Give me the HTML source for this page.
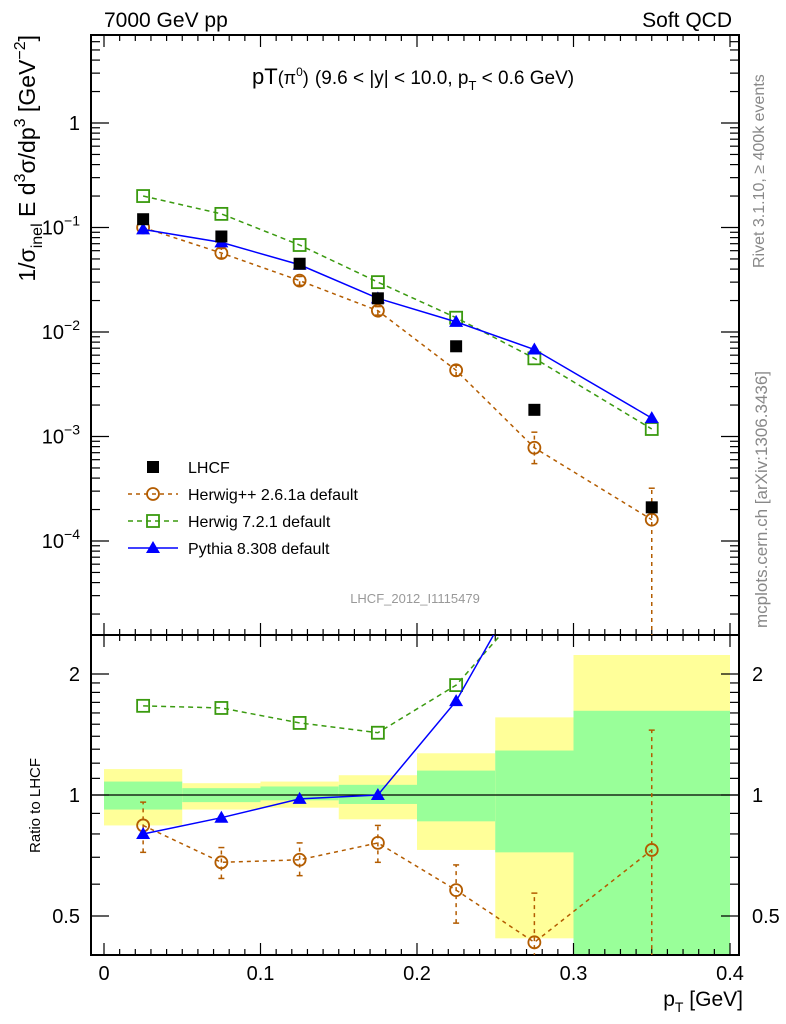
<!DOCTYPE html>
<html><head><meta charset="utf-8"><style>
html,body{margin:0;background:#fff;width:786px;height:1024px;overflow:hidden;}
svg{display:block;font-family:"Liberation Sans",sans-serif;}
</style></head><body>
<svg id="c" width="786" height="1024" xmlns="http://www.w3.org/2000/svg" style="overflow:hidden"></svg>
<script>
const xs=[0.025,0.075,0.125,0.175,0.225,0.275,0.35];
const lhcf=[0.12,0.082,0.045,0.021,0.0073,0.0018,0.00021];
const herwigpp=[0.1,0.057,0.031,0.016,0.0043,0.00078,0.00016];
const herwigppLo=[0.09,0.051,0.028,0.0145,0.0038,0.00055,0.000001];
const herwigppHi=[0.11,0.063,0.034,0.0175,0.0048,0.0011,0.00032];
const herwig7=[0.2,0.135,0.068,0.03,0.0137,0.0056,0.00118];
const pythia=[0.096,0.072,0.044,0.021,0.0125,0.0068,0.0015];
const hppRatio=[0.84,0.68,0.69,0.76,0.58,0.43,0.73];
const hppErrLo=[0.72,0.62,0.63,0.68,0.48,0.3,0.3];
const hppErrHi=[0.96,0.74,0.76,0.84,0.67,0.57,1.45];
const binEdges=[0,0.05,0.1,0.15,0.2,0.25,0.3,0.4];
const yellowHi=[1.16,1.07,1.08,1.12,1.27,1.56,2.23];
const yellowLo=[0.84,0.92,0.93,0.87,0.73,0.44,0.3];
const greenHi=[1.08,1.04,1.05,1.06,1.15,1.29,1.62];
const greenLo=[0.92,0.96,0.97,0.95,0.86,0.72,0.3];
const mainTicks=["1","10<tspan dy='-9' font-size='14'>−1</tspan>","10<tspan dy='-9' font-size='14'>−2</tspan>","10<tspan dy='-9' font-size='14'>−3</tspan>","10<tspan dy='-9' font-size='14'>−4</tspan>"];
const xTickLabels=["0","0.1","0.2","0.3","0.4"];

const L=91,R=739,T=35,MB=635,RB=955;
const X=v=>104+v*1565;
const Y=v=>123-104.5*Math.log10(v);
const YR=v=>795-121*Math.log2(v);
const svg=document.getElementById('c');
const NS='http://www.w3.org/2000/svg';
function el(tag,attrs,parent){const e=document.createElementNS(NS,tag);for(const k in attrs)e.setAttribute(k,attrs[k]);(parent||svg).appendChild(e);return e;}

const defs=el('defs',{});
const cp=el('clipPath',{id:'rc'},defs);el('rect',{x:L,y:MB,width:R-L,height:RB-MB},cp);
const cpm=el('clipPath',{id:'mc'},defs);el('rect',{x:L,y:T,width:R-L,height:MB-T},cpm);
const bands=el('g',{'clip-path':'url(#rc)'});


for(let i=0;i<7;i++){
 const x0=X(binEdges[i]),x1=X(binEdges[i+1]);
 const y1=el('rect',{x:x0,y:YR(yellowHi[i]),width:x1-x0,height:YR(yellowLo[i])-YR(yellowHi[i]),fill:'#ffff99'},bands);
 
 
 const g1=el('rect',{x:x0,y:YR(greenHi[i]),width:x1-x0,height:YR(greenLo[i])-YR(greenHi[i]),fill:'#99ff99'},bands);
 
 
}
el('line',{x1:L,x2:R,y1:YR(1),y2:YR(1),stroke:'#000','stroke-width':1.2});

el('rect',{x:L,y:T,width:R-L,height:MB-T,fill:'none',stroke:'#000','stroke-width':2});
el('rect',{x:L,y:MB,width:R-L,height:RB-MB,fill:'none',stroke:'#000','stroke-width':2});
for(let i=0;i<=40;i++){const x=X(i/100),maj=i%10==0,len=maj?12:6;
 [[MB,-1],[RB,-1],[T,1],[MB,1]].forEach(([y,d])=>el('line',{x1:x,x2:x,y1:y,y2:y+d*len,stroke:'#000','stroke-width':1.2}));
}
xTickLabels.forEach((t,i)=>{const e=el('text',{x:X(i/10),y:980,'font-size':20,'text-anchor':'middle'});e.textContent=t;
 
 });
for(let d=0;d>=-5;d--){for(let m=1;m<10;m++){const v=m*Math.pow(10,d);const y=Y(v);if(y<T||y>MB)continue;const len=m==1?18:9;
 el('line',{x1:L,x2:L+len,y1:y,y2:y,stroke:'#000','stroke-width':1.2});el('line',{x1:R,x2:R-len,y1:y,y2:y,stroke:'#000','stroke-width':1.2});}}
mainTicks.forEach((t,i)=>{const g=el('text',{x:80,y:Y(Math.pow(10,-i))+7,'font-size':20,'text-anchor':'end'});g.innerHTML=t;
 
 });
[0.4,0.5,0.6,0.7,0.8,0.9,1,2].forEach(v=>{const y=YR(v);if(y>RB)return;const maj=(v==0.5||v==1||v==2);const len=maj?18:9;
 el('line',{x1:L,x2:L+len,y1:y,y2:y,stroke:'#000','stroke-width':1.2});el('line',{x1:R,x2:R-len,y1:y,y2:y,stroke:'#000','stroke-width':1.2});});
[1.1,1.2,1.3,1.4,1.5,1.6,1.7,1.8,1.9].forEach(v=>{const y=YR(v);el('line',{x1:L,x2:L+9,y1:y,y2:y,stroke:'#000','stroke-width':1.2});el('line',{x1:R,x2:R-9,y1:y,y2:y,stroke:'#000','stroke-width':1.2});});
[["2",2],["1",1],["0.5",0.5]].forEach(([t,v])=>{[80,752].forEach(x=>{const e=el('text',{x:x,y:YR(v)+7,'font-size':20,'text-anchor':x<100?'end':'start'});e.textContent=t;
 
 });});

function series(vals,fn,color,dash,marker,clip,name,errLo,errHi){
 const g=el('g',{'clip-path':'url(#'+clip+')'});
 
 
 const pts=xs.map((x,i)=>[X(x),fn(vals[i])]);
 if(errLo){xs.forEach((x,i)=>{const lo=fn(errLo[i]),hi=fn(errHi[i]);
  el('line',{x1:X(x),x2:X(x),y1:lo,y2:hi,stroke:color,'stroke-width':1.5,'stroke-dasharray':'4,4'},g);
  el('line',{x1:X(x)-3,x2:X(x)+3,y1:hi,y2:hi,stroke:color,'stroke-width':1.5},g);
  el('line',{x1:X(x)-3,x2:X(x)+3,y1:lo,y2:lo,stroke:color,'stroke-width':1.5},g);});}
 if(dash!==null)el('polyline',{points:pts.map(p=>p.join(',')).join(' '),fill:'none',stroke:color,'stroke-width':1.5,'stroke-dasharray':dash},g);
 pts.forEach(([x,y])=>drawMarker(g,marker,x,y,color));
}
function drawMarker(g,m,x,y,c){
 let e;
 if(m=='sq')e=el('rect',{x:x-6,y:y-6,width:12,height:12,fill:'#000'},g);
 if(m=='circ')e=el('circle',{cx:x,cy:y,r:6,fill:'none',stroke:c,'stroke-width':1.8},g);
 if(m=='osq')e=el('rect',{x:x-6,y:y-6,width:12,height:12,fill:'none',stroke:c,'stroke-width':1.8},g);
 if(m=='tri')e=el('polygon',{points:`${x},${y-7} ${x-7},${y+5} ${x+7},${y+5}`,fill:c},g);
 
 
}
series(herwigpp,Y,'#b35c00','4,4','circ','mc','herwigpp-series',herwigppLo,herwigppHi);
series(herwig7,Y,'#3a9a0f','5,4','osq','mc','herwig7-series');
series(pythia,Y,'#0000ff','','tri','mc','pythia-series');
series(lhcf,Y,'#000',null,'sq','mc','lhcf-series');
series(hppRatio,YR,'#b35c00','4,4','circ','rc','herwigpp-ratio',hppErrLo,hppErrHi);
series(herwig7.map((v,i)=>v/lhcf[i]),YR,'#3a9a0f','5,4','osq','rc','herwig7-ratio');
series(pythia.map((v,i)=>v/lhcf[i]),YR,'#0000ff','','tri','rc','pythia-ratio');

const leg=[["LHCF",'#000',null,'sq'],["Herwig++ 2.6.1a default",'#b35c00','4,4','circ'],["Herwig 7.2.1 default",'#3a9a0f','5,4','osq'],["Pythia 8.308 default",'#0000ff','','tri']];
leg.forEach(([t,c,d,m],i)=>{const y=467+i*27;const g=el('g',{});
 
 
 if(d!==null)el('line',{x1:128,x2:178,y1:y,y2:y,stroke:c,'stroke-width':1.5,'stroke-dasharray':d},g);
 drawMarker(g,m,153,y,c);
 const tx=el('text',{x:188,y:y+6,'font-size':16},g);tx.textContent=t;});

function txt(s,attrs,name,html){const e=el('text',attrs);if(html)e.innerHTML=s;else e.textContent=s;
 
 return e;}
txt('7000 GeV pp',{x:104,y:27,'font-size':21},'energy-label');
txt('Soft QCD',{x:732,y:27,'font-size':21,'text-anchor':'end'},'process-label');
txt("pT<tspan font-size='18'>(π<tspan dy='-8' font-size='12'>0</tspan><tspan dy='8'>)</tspan></tspan> <tspan font-size='19'>(9.6 &lt; |y| &lt; 10.0, p<tspan dy='6' font-size='13'>T</tspan><tspan dy='-6'> &lt; 0.6 GeV)</tspan></tspan>",{x:252,y:84,'font-size':22},'plot-title',true);
txt('LHCF_2012_I1115479',{x:415,y:603,'font-size':13,fill:'#999','text-anchor':'middle'},'analysis-id');
txt("1/σ<tspan dy='7' font-size='16'>inel</tspan><tspan dy='-7'> E d</tspan><tspan dy='-10' font-size='16'>3</tspan><tspan dy='10'>σ/dp</tspan><tspan dy='-10' font-size='16'>3</tspan><tspan dy='10'> [GeV</tspan><tspan dy='-10' font-size='16'>−2</tspan><tspan dy='10'>]</tspan>",{x:0,y:0,'font-size':23,transform:'translate(35,35) rotate(-90)','text-anchor':'end'},'y-axis-title',true);
txt('Ratio to LHCF',{x:0,y:0,'font-size':15,transform:'translate(40,853) rotate(-90)'},'ratio-axis-title');
txt("p<tspan dy='6' font-size='14'>T</tspan><tspan dy='-6'> [GeV]</tspan>",{x:743,y:1006,'font-size':21,'text-anchor':'end'},'x-axis-title',true);
txt('Rivet 3.1.10, ≥ 400k events',{x:0,y:0,'font-size':16,fill:'#888',transform:'translate(764,268) rotate(-90)'},'rivet-label');
txt('mcplots.cern.ch [arXiv:1306.3436]',{x:0,y:0,'font-size':17,fill:'#888',transform:'translate(767,628) rotate(-90)'},'mcplots-label');
</script>
</body></html>
